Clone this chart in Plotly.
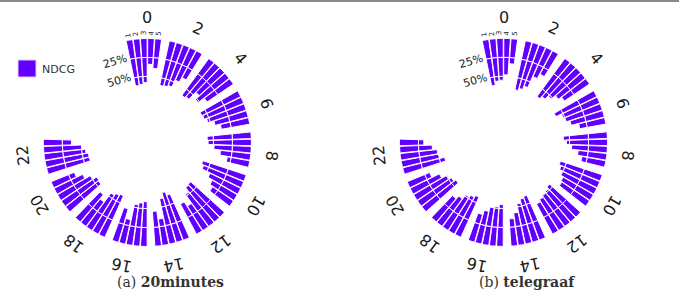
import math
import plotly.graph_objects as go

# ---------------- data ----------------
hours = [0, 2, 4, 6, 8, 10, 12, 14, 16, 18, 20, 22]
positions = ["1", "2", "3", "4", "5"]
radial_ticks = [25, 50]
radial_ticktext = ["25%", "50%"]
captions = ["(a) <b>20minutes</b>", "(b) <b>telegraaf</b>"]
series_name = "NDCG"

# NDCG (%) per hour group, one list per result position (1..5)
m20_pos1 = [61, 60, 60, 57, 58, 60, 60, 63, 59, 60, 55, 58]
m20_pos2 = [60, 59, 58, 56, 57, 57, 59, 68, 57, 58, 56, 58]
m20_pos3 = [58, 57, 45, 53, 49, 45, 52, 61, 54, 55, 50, 55]
m20_pos4 = [34, 47, 52, 45, 40, 38, 38, 35, 33, 40, 42, 50]
m20_pos5 = [39, 40, 42, 38, 30, 33, 45, 46, 46, 47, 33, 37]

tg_pos1 = [61, 66, 62, 60, 58, 58, 55, 61, 55, 58, 57, 57]
tg_pos2 = [56, 63, 58, 52, 54, 55, 52, 59, 52, 55, 54, 50]
tg_pos3 = [55, 58, 52, 50, 47, 50, 50, 54, 50, 52, 51, 49]
tg_pos4 = [48, 42, 45, 45, 38, 46, 48, 43, 44, 45, 43, 43]
tg_pos5 = [33, 35, 40, 35, 32, 44, 45, 36, 38, 40, 32, 32]

charts = [
    [m20_pos1, m20_pos2, m20_pos3, m20_pos4, m20_pos5],
    [tg_pos1, tg_pos2, tg_pos3, tg_pos4, tg_pos5],
]

# ---------------- styling / geometry ----------------
W, H = 679, 294
R = 104.0
HOLE = 0.27
CENTERS = [(147.4, 142.5), (503.5, 142.4)]
GROUP_STEP = 24.0
BAR_STEP = 4.0
BAR_COLOR = "#6100ff"
TEXT_COLOR = "#1a1a1a"
SEGMENTS = [(0, 25), (25, 50), (50, 100)]


def bar_theta(g, j):
    return GROUP_STEP * g - 2 * BAR_STEP - 2 + BAR_STEP * j


def to_paper(cx, cy, r, theta):
    t = math.radians(theta)
    x = cx + r * math.sin(t)
    y = cy - r * math.cos(t)
    return x / W, 1 - y / H


fig = go.Figure()
annotations = []

for ci, series in enumerate(charts):
    subplot = "polar" if ci == 0 else "polar2"
    cx, cy = CENTERS[ci]
    for si, (lo, hi) in enumerate(SEGMENTS):
        th, rr, bb = [], [], []
        for j, vals in enumerate(series):
            for g, v in enumerate(vals):
                seg = min(max(v, lo), hi) - lo
                if seg <= 0:
                    continue
                th.append(bar_theta(g, j))
                rr.append(seg)
                bb.append(100 - lo - seg)
        fig.add_trace(go.Barpolar(
            theta=th, r=rr, base=bb, width=BAR_STEP * 0.92,
            marker=dict(color=BAR_COLOR, line=dict(color="white", width=1)),
            name=series_name, showlegend=False,
            subplot=subplot, hoverinfo="skip",
        ))

    # hour labels (rotated tangentially)
    for g, h in enumerate(hours):
        th = GROUP_STEP * g
        x, y = to_paper(cx, cy, 125, th)
        annotations.append(dict(x=x, y=y, xref="paper", yref="paper", text=str(h),
                                showarrow=False, textangle=th, xanchor="center", yanchor="middle",
                                font=dict(family="DejaVu Sans", size=16, color=TEXT_COLOR)))
    # position labels 1..5 above the first group
    for j, p in enumerate(positions):
        th = bar_theta(0, j)
        x, y = to_paper(cx, cy, R + 5, th)
        annotations.append(dict(x=x, y=y, xref="paper", yref="paper", text=p,
                                showarrow=False, textangle=th - 90, xanchor="center", yanchor="middle",
                                font=dict(family="DejaVu Sans", size=7, color=TEXT_COLOR)))
    # radial tick labels
    for k, (tv, tt) in enumerate(zip(radial_ticks, radial_ticktext)):
        rpx = HOLE * R + (100 - tv) / 100 * (1 - HOLE) * R
        th = -22 - 2.5 * k
        x, y = to_paper(cx, cy, rpx + 2, th)
        annotations.append(dict(x=x, y=y, xref="paper", yref="paper", text=tt,
                                showarrow=False, textangle=-16, xanchor="center", yanchor="middle",
                                font=dict(family="DejaVu Sans", size=11, color=TEXT_COLOR)))
    # caption
    annotations.append(dict(x=(cx + 23) / W, y=1 - 282 / H, xref="paper", yref="paper",
                            text=captions[ci], showarrow=False, xanchor="center", yanchor="middle",
                            font=dict(family="DejaVu Serif", size=14, color="#333333")))

# legend (drawn as a key box + label)
annotations.append(dict(x=40 / W, y=1 - 69 / H, xref="paper", yref="paper", text=series_name,
                        showarrow=False, xanchor="left", yanchor="middle",
                        font=dict(family="DejaVu Sans", size=11, color="#333333")))


def polar_layout(cx, cy):
    return dict(
        domain=dict(x=[(cx - R) / W, (cx + R) / W], y=[1 - (cy + R) / H, 1 - (cy - R) / H]),
        hole=HOLE,
        bgcolor="white",
        radialaxis=dict(range=[0, 100], visible=False),
        angularaxis=dict(rotation=90, direction="clockwise", visible=False, thetaunit="degrees"),
        barmode="overlay",
    )


fig.update_layout(
    width=W, height=H,
    margin=dict(l=0, r=0, t=0, b=0),
    paper_bgcolor="white",
    polar=polar_layout(*CENTERS[0]),
    polar2=polar_layout(*CENTERS[1]),
    showlegend=False,
    annotations=annotations,
    shapes=[
        dict(type="line", xref="paper", yref="paper", x0=0, x1=1, y0=1 - 1 / H, y1=1 - 1 / H,
             line=dict(color="#8a8a8a", width=2)),
        dict(type="rect", xref="paper", yref="paper", x0=18 / W, x1=36 / W,
             y0=1 - 77 / H, y1=1 - 60 / H, fillcolor=BAR_COLOR,
             line=dict(color="#e6c8ff", width=1)),
    ],
)

fig.write_html("out.html")
